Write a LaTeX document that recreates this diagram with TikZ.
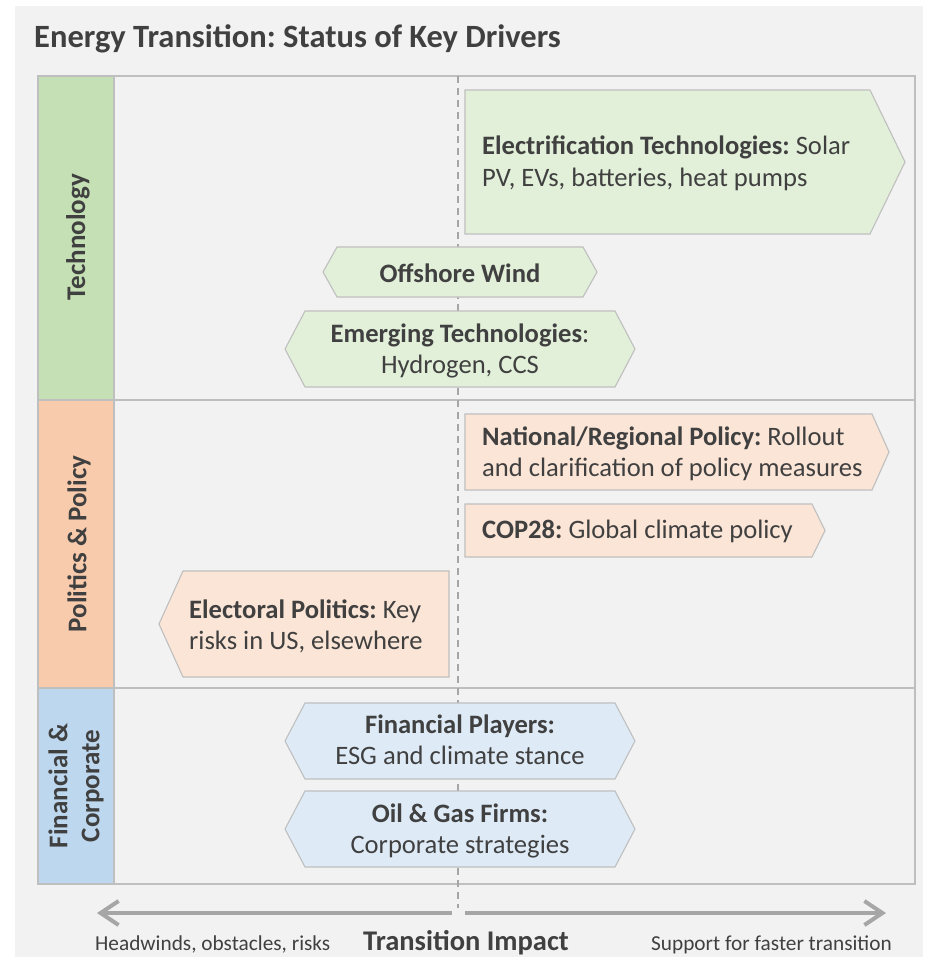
\documentclass[tikz,border=0pt]{standalone}
\usepackage{fontspec}
\setmainfont{Carlito}
\usetikzlibrary{arrows.meta}
\frenchspacing
\definecolor{bgc}{HTML}{F2F2F2}
\definecolor{lineg}{HTML}{BFBFBF}
\definecolor{dashg}{HTML}{A6A6A6}
\definecolor{arrowg}{HTML}{A6A6A6}
\definecolor{txtc}{HTML}{404040}
\definecolor{labgreen}{HTML}{C5E0B4}
\definecolor{labor}{HTML}{F8CBAD}
\definecolor{labblue}{HTML}{BDD7EE}
\definecolor{boxgreen}{HTML}{E2F0D9}
\definecolor{boxor}{HTML}{FBE5D6}
\definecolor{boxblue}{HTML}{DEEBF7}
\newcommand\twoleft[2]{\begin{tabular}[t]{@{}l@{}}#1\\#2\end{tabular}}
\newcommand\twocent[2]{\begin{tabular}[t]{@{}c@{}}#1\\#2\end{tabular}}
\begin{document}
\frenchspacing
\begin{tikzpicture}[x=1pt,y=-1pt,
  gridline/.style={draw=lineg, line width=1.5pt},
  boxedge/.style={draw=lineg, line width=1.1pt},
  boxg/.style={boxedge, fill=boxgreen},
  boxo/.style={boxedge, fill=boxor},
  boxb/.style={boxedge, fill=boxblue},
  txt/.style={text=txtc, inner sep=0pt, font=\fontsize{26.6}{31.5}\selectfont},
  lab/.style={text=txtc, inner sep=0pt, rotate=90, font=\fontsize{27}{32}\selectfont\bfseries},
  small/.style={text=txtc, inner sep=0pt, font=\fontsize{21.3}{25}\selectfont},
  axisarrow/.style={draw=arrowg, line width=4pt, -{Straight Barb[length=18pt,width=24pt]}},
  midline/.style={draw=dashg, line width=1.5pt, dash pattern=on 7pt off 5pt}]
\useasboundingbox (0,0) rectangle (926,968);
\fill[white] (0,0) rectangle (926,968);
\fill[bgc] (15,6) rectangle (923,957);
% title
\node[text=txtc, inner sep=0pt, anchor=base west, font=\fontsize{32.5}{38}\selectfont\bfseries] (title) at (34,48) {Energy Transition: Status of Key Drivers};
% label column fills
\fill[labgreen] (38,76) rectangle (114,400);
\fill[labor] (38,400) rectangle (114,688);
\fill[labblue] (38,688) rectangle (114,884);
% grid
\draw[gridline] (38,76) rectangle (915,884);
\draw[gridline] (114,76) -- (114,884);
\draw[gridline] (38,400) -- (915,400);
\draw[gridline] (38,688) -- (915,688);
% middle dashed line
\coordinate (dtop) at (458,76);
\coordinate (dbot) at (458,908);
\draw[midline] (dtop) -- (dbot);
% row labels
\node[lab] (ltech) at (78,237) {Technology};
\node[lab] (lpol) at (79,544) {Politics \& Policy};
\node[lab] (lfin) at (77,786) {\twocent{Financial \&}{Corporate}};
% technology shapes
\draw[boxg] (465,90) -- (870,90) -- (905,162) -- (870,234) -- (465,234) -- cycle;
\node[txt, anchor=base west] (elec) at (482,155) {\twoleft{\textbf{Electrification Technologies:} Solar}{PV, EVs, batteries, heat pumps}};
\draw[boxg] (323,272) -- (337,247) -- (583,247) -- (597,272) -- (583,297) -- (337,297) -- cycle;
\node[txt, anchor=base] (wind) at (460,282) {\textbf{Offshore Wind}};
\draw[boxg] (285,349) -- (305,311) -- (615,311) -- (635,349) -- (615,387) -- (305,387) -- cycle;
\node[txt, anchor=base] (emerg) at (460,342) {\twocent{\textbf{Emerging Technologies}:}{Hydrogen, CCS}};
% politics shapes
\draw[boxo] (465,414) -- (872,414) -- (889,452) -- (872,490) -- (465,490) -- cycle;
\node[txt, anchor=base west] (natl) at (482,445) {\twoleft{\textbf{National/Regional Policy:} Rollout}{and clarification of policy measures}};
\draw[boxo] (465,504) -- (812,504) -- (825,530.5) -- (812,557) -- (465,557) -- cycle;
\node[txt, anchor=base west] (cop) at (482,538) {\textbf{COP28:} Global climate policy};
\draw[boxo] (159,624) -- (183,571) -- (449,571) -- (449,677) -- (183,677) -- cycle;
\node[txt, anchor=base west] (elect) at (189,618) {\twoleft{\textbf{Electoral Politics:} Key}{risks in US, elsewhere}};
% financial shapes
\draw[boxb] (285,741) -- (305,703) -- (615,703) -- (635,741) -- (615,779) -- (305,779) -- cycle;
\node[txt, anchor=base] (finp) at (460,733) {\twocent{\textbf{Financial Players:}}{ESG and climate stance}};
\draw[boxb] (285,829) -- (305,791) -- (615,791) -- (635,829) -- (615,867) -- (305,867) -- cycle;
\node[txt, anchor=base] (oil) at (460,822) {\twocent{\textbf{Oil \& Gas Firms:}}{Corporate strategies}};
% axis
\coordinate (la) at (452,913);
\coordinate (lt) at (97,913);
\coordinate (ra) at (465,913);
\coordinate (rt) at (886,913);
\draw[axisarrow] (la) -- (lt);
\draw[axisarrow] (ra) -- (rt);
\node[small, anchor=base west] (head) at (95,950) {Headwinds, obstacles, risks};
\node[text=txtc, inner sep=0pt, anchor=base, font=\fontsize{28.5}{33}\selectfont\bfseries] (impact) at (466,950) {Transition Impact};
\node[small, anchor=base east] (supp) at (892,950) {Support for faster transition};
\end{tikzpicture}
\end{document}
